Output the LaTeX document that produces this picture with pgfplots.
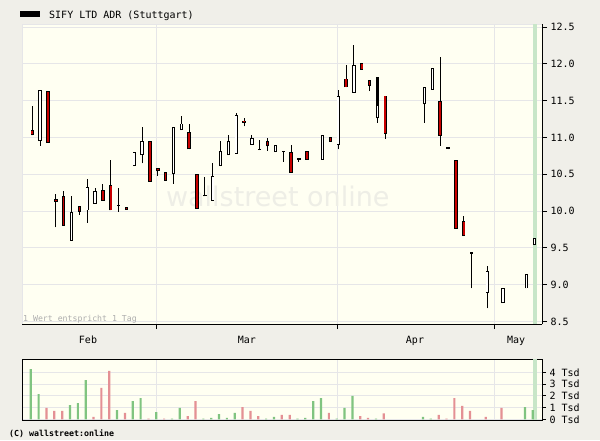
\documentclass[border=0pt]{standalone}
\usepackage{fontspec}
\setmainfont{DejaVu Sans Mono}
\newfontfamily\wmfont{DejaVu Sans}
\usepackage{pgfplots}
\usepackage{pgfplotstable}
\pgfplotsset{compat=1.18}

\definecolor{bgc}{RGB}{240,239,233}
\definecolor{plotbg}{RGB}{255,255,242}
\definecolor{gridc}{RGB}{230,230,232}
\definecolor{candred}{RGB}{200,0,0}
\definecolor{volgreen}{RGB}{128,196,128}
\definecolor{volred}{RGB}{228,144,148}
\definecolor{hlgreen}{RGB}{200,230,200}
\definecolor{wmc}{RGB}{238,238,230}

\pgfplotsset{/pgf/number format/assume math mode=true}

% slot open high low close kind (1 = falling/red, 0 = rising/white, 2 = black)
\pgfplotstableread{
x o h l c k
0 11.10 11.43 11.03 11.03 1
1 10.95 11.65 10.89 11.65 0
2 11.63 11.63 10.93 10.93 1
3 10.16 10.23 9.78 10.13 1
4 10.20 10.28 9.80 9.80 1
5 9.60 10.20 9.60 9.99 0
6 10.07 10.07 9.95 9.99 1
7 10.01 10.44 9.84 10.33 0
8 10.10 10.32 10.10 10.27 0
9 10.29 10.37 10.14 10.14 1
10 10.35 10.70 10.01 10.01 1
11 10.09 10.31 9.99 10.07 1
12 10.05 10.05 10.02 10.02 1
13 10.61 10.80 10.61 10.80 0
14 10.76 11.14 10.65 10.95 0
15 10.95 10.95 10.40 10.40 1
16 10.59 10.59 10.48 10.54 1
17 10.53 10.53 10.41 10.41 1
18 10.50 11.14 10.37 11.14 0
19 11.10 11.29 11.10 11.19 0
20 11.08 11.18 10.84 10.84 1
21 10.50 10.50 10.03 10.03 1
22 10.22 10.46 10.20 10.20 1
23 10.14 10.65 10.14 10.48 0
24 10.61 10.95 10.61 10.82 0
25 10.76 11.04 10.76 10.95 0
26 10.78 11.33 10.78 11.30 0
27 11.23 11.26 11.15 11.20 1
28 10.90 11.03 10.90 10.99 0
29 10.85 10.96 10.83 10.83 1
30 10.95 11.00 10.82 10.88 1
31 10.80 10.90 10.80 10.90 0
32 10.82 10.82 10.67 10.80 1
33 10.80 10.90 10.52 10.52 1
34 10.72 10.72 10.67 10.70 1
35 10.81 10.81 10.70 10.70 1
37 10.70 11.03 10.70 11.03 0
38 11.01 11.01 10.94 10.94 1
39 10.90 11.64 10.84 11.56 0
40 11.80 11.99 11.68 11.68 1
41 11.61 12.26 11.61 11.98 0
42 12.01 12.01 11.92 11.92 1
43 11.78 11.78 11.63 11.70 1
44 11.44 11.82 11.44 11.82 2
44 11.26 11.44 11.20 11.44 0
45 11.57 11.57 10.98 11.05 1
50 11.45 11.69 11.20 11.69 0
51 11.65 11.94 11.65 11.94 0
52 11.50 12.09 10.89 11.02 1
53 10.855 10.86 10.84 10.845 1
54 10.69 10.69 9.76 9.76 1
55 9.87 9.93 9.66 9.66 1
56 9.44 9.44 8.95 9.42 1
58 8.89 9.25 8.68 9.19 0
60 8.75 8.95 8.75 8.95 0
63 8.95 9.15 8.95 9.15 0
64 9.54 9.64 9.54 9.64 0
}\candles

% slot volume (thousands) kind (1 = up/green, 0 = down/red)
\pgfplotstableread{
x v k
0 4.30 1
1 2.16 1
2 0.97 0
3 0.71 0
4 0.71 0
5 1.22 1
6 1.39 1
7 3.36 1
8 0.20 0
9 2.68 0
10 4.13 0
11 0.79 1
12 0.54 0
13 1.56 1
14 1.82 1
15 0.05 0
16 0.62 1
17 0.05 0
18 0.05 1
19 0.97 1
20 0.28 0
21 1.56 0
22 0.05 1
23 0.12 1
24 0.45 1
25 0.12 1
26 0.54 1
27 1.05 0
28 0.71 0
29 0.28 0
30 0.05 1
31 0.20 1
32 0.37 0
33 0.37 0
34 0.05 1
35 0.12 1
36 1.56 1
37 1.82 1
38 0.54 0
39 0.05 1
40 0.97 1
41 2.00 1
42 0.28 0
43 0.12 0
44 0.05 1
45 0.50 0
50 0.20 1
51 0.05 1
52 0.37 0
53 0.05 0
54 1.82 0
55 1.14 0
56 0.71 0
58 0.20 0
60 0.97 0
63 1.05 1
64 0.79 1
}\volumes

\begin{document}
\begin{tikzpicture}
\fill[bgc] (0,0) rectangle (600pt,440pt);
\path[use as bounding box] (0,0) rectangle (600pt,440pt);

% title / legend
\fill[black] (20pt,423.3pt) rectangle (40pt,429.3pt);
\node[anchor=base west, inner sep=0, font=\fontsize{10}{12}\selectfont] at (49pt,421.5pt) {SIFY LTD ADR (Stuttgart)};

% copyright
\node[anchor=base west, inner sep=0, font=\fontsize{8.3}{10}\selectfont\bfseries] at (9pt,4pt) {(C) wallstreet:online};

\begin{axis}[
  at={(22pt,116pt)}, anchor=south west,
  scale only axis, width=520pt, height=299.5pt,
  xmin=-1.313, xmax=64.98, ymin=8.467, ymax=12.535,
  axis background/.style={fill=plotbg},
  axis x line*=bottom, axis y line*=right,
  axis line style={black, line width=1pt},
  xtick={15.77,38.84,58.86}, xticklabels={},
  extra x ticks={7.1,27.37,48.79,61.67},
  extra x tick labels={Feb,Mar,Apr,May},
  extra x tick style={major tick length=0pt, grid=none,
     xticklabel style={anchor=base, yshift=-19pt}},
  ytick={8.5,9.0,9.5,10.0,10.5,11.0,11.5,12.0,12.5},
  yticklabel style={/pgf/number format/.cd, fixed, fixed zerofill, precision=1},
  grid=major, major grid style={gridc, line width=0.9pt},
  tick align=outside, major tick length=5pt,
  tick style={black, line width=0.9pt},
  ticklabel style={font=\fontsize{10}{12}\selectfont},
  clip=true,
]
\draw[gridc, line width=1pt] (rel axis cs:0,0) -- (rel axis cs:0,1) -- (rel axis cs:1,1);
\node[wmc, font=\wmfont\fontsize{27}{27}\selectfont] at (axis cs:31.3,10.2) {wallstreet online};
\node[anchor=base west, inner sep=0, text=black!32, font=\fontsize{8.2}{9}\selectfont] at (rel axis cs:0,0) [xshift=1pt, yshift=3pt] {1 Wert entspricht 1 Tag};
\fill[hlgreen] (axis cs:63.80,8.467) rectangle (axis cs:64.28,12.535);

% wicks
\addplot[draw=none, mark=none, forget plot,
  error bars/y dir=plus, error bars/y explicit, error bars/error mark=none,
  error bars/error bar style={draw=black, line width=1pt}]
  table[x=x, y=l, y error expr=\thisrow{h}-\thisrow{l}] {\candles};
% body outline
\addplot[draw=none, mark=none, forget plot,
  error bars/y dir=plus, error bars/y explicit, error bars/error mark=none,
  error bars/error bar style={draw=black, line width=3.4pt}]
  table[x=x, y expr={min(\thisrow{o},\thisrow{c})}, y error expr={max(abs(\thisrow{c}-\thisrow{o}),0.02)}] {\candles};
% red bodies
\addplot[draw=none, mark=none, forget plot, restrict expr to domain={\thisrow{k}}{0.5:1.5},
  error bars/y dir=plus, error bars/y explicit, error bars/error mark=none,
  error bars/error bar style={draw=candred, line width=1.6pt}]
  table[x=x, y expr={min(\thisrow{o},\thisrow{c})+0.012}, y error expr={max(abs(\thisrow{c}-\thisrow{o})-0.024,0)}] {\candles};
% white bodies
\addplot[draw=none, mark=none, forget plot, restrict expr to domain={\thisrow{k}}{-0.5:0.5},
  error bars/y dir=plus, error bars/y explicit, error bars/error mark=none,
  error bars/error bar style={draw=white, line width=1.6pt}]
  table[x=x, y expr={min(\thisrow{o},\thisrow{c})+0.012}, y error expr={max(abs(\thisrow{c}-\thisrow{o})-0.024,0)}] {\candles};
\end{axis}

\begin{axis}[
  at={(22pt,20pt)}, anchor=south west,
  scale only axis, width=520pt, height=60.7pt,
  xmin=-1.313, xmax=64.98, ymin=-0.06, ymax=5.13,
  axis background/.style={fill=plotbg},
  axis line style={black, line width=1pt},
  xtick={15.77,38.84,58.86}, xticklabels={},
  xtick style={draw=none},
  ytick={0,1,2,3,4}, yticklabels={0 Tsd,1 Tsd,2 Tsd,3 Tsd,4 Tsd},
  ytick pos=right, yticklabel pos=right,
  grid=major, major grid style={gridc, line width=0.9pt},
  tick align=outside, major tick length=4pt,
  ytick style={black, line width=0.9pt},
  ticklabel style={font=\fontsize{10}{12}\selectfont},
]
\fill[hlgreen] (axis cs:63.80,-0.06) rectangle (axis cs:64.28,5.13);
\addplot[ybar, bar width=2.2pt, bar shift=-1.5pt, fill=volgreen, draw=none, restrict expr to domain={\thisrow{k}}{0.5:1.5}]
  table[x=x, y=v] {\volumes};
\addplot[ybar, bar width=2.2pt, bar shift=-1.5pt, fill=volred, draw=none, restrict expr to domain={\thisrow{k}}{-0.5:0.5}]
  table[x=x, y=v] {\volumes};
\end{axis}
\end{tikzpicture}
\end{document}
